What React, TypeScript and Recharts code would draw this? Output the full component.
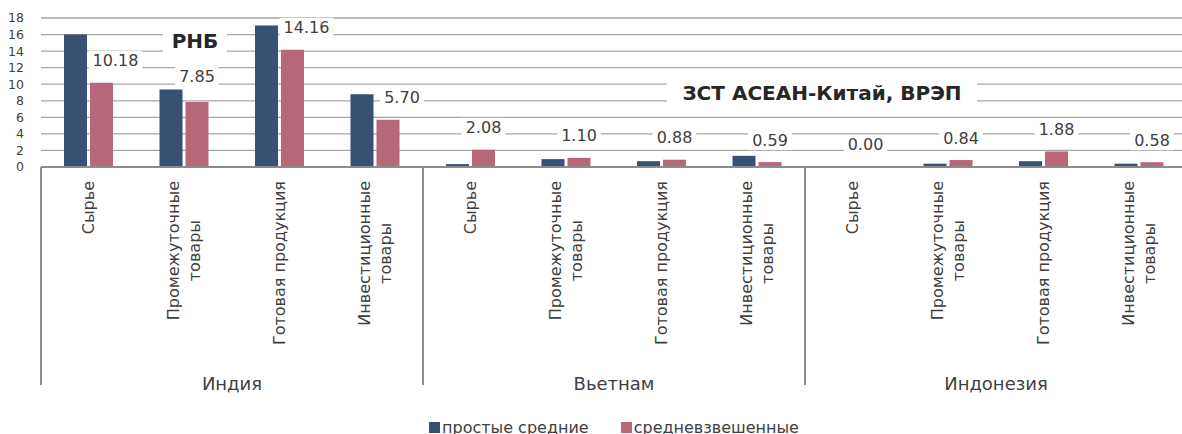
import React from 'react';
import { BarChart, Bar, XAxis, YAxis, CartesianGrid, LabelList } from 'recharts';

// ---- data ----
const groups = ['Индия', 'Вьетнам', 'Индонезия'];
const categoryNames = ['Сырье', 'Промежуточные\nтовары', 'Готовая продукция', 'Инвестиционные\nтовары'];
const simpleAvg = [16.0, 9.35, 17.1, 8.8, 0.35, 0.95, 0.7, 1.35, 0.0, 0.4, 0.7, 0.4];
const weightedAvg = [10.18, 7.85, 14.16, 5.7, 2.08, 1.1, 0.88, 0.59, 0.0, 0.84, 1.88, 0.58];
const yTicks = [0, 2, 4, 6, 8, 10, 12, 14, 16, 18];
const seriesNames = ['простые средние', 'средневзвешенные'];
const annotations = ['РНБ', 'ЗСТ АСЕАН-Китай, ВРЭП'];

// ---- layout / style ----
const FONT = '"DejaVu Sans", sans-serif';
const BLUE = '#375073';
const RED = '#b8667a';
const TEXT = '#404040';
const GRID = '#a6a6a6';
const AXIS = '#8c8c8c';
const CHART_W = 1195;
const CHART_H = 434;
const MARGIN = { top: 18, right: 8, left: 0, bottom: 0 };
const Y_W = 41;
const PLOT_W = CHART_W - MARGIN.right - MARGIN.left - Y_W;
const BW = PLOT_W / (groups.length * categoryNames.length);
const X_AXIS_H = 267;
const PLOT_H = CHART_H - MARGIN.top - MARGIN.bottom - X_AXIS_H;
const Y_MAX = yTicks[yTicks.length - 1];
const CAT_FS = 16;
const LINE_H = 21;
const LABEL_TOP = 14;
const DIVIDER_LEN = 218;
const GROUP_Y = 216;
const DATA_FS = 16;
const LABEL_RISE = 22;
const LABEL_SHIFT = 14;
const LABEL_CLEAR = 13;

const rows = groups.flatMap((g, gi) =>
  categoryNames.map((c, ci) => ({
    key: `${gi}-${ci}`,
    name: c,
    group: g,
    simple: simpleAvg[gi * categoryNames.length + ci],
    weighted: weightedAvg[gi * categoryNames.length + ci],
  }))
);

let ctx: CanvasRenderingContext2D | null = null;
function measure(text: string, font: string): number {
  if (!ctx) ctx = document.createElement('canvas').getContext('2d');
  if (!ctx) return text.length * 9;
  ctx.font = font;
  return ctx.measureText(text).width;
}

const CategoryTick = (props: any) => {
  const { x, y, index } = props;
  const row = rows[index];
  if (!row) return null;
  const lines = row.name.split('\n');
  const font = `${CAT_FS}px ${FONT}`;
  const maxW = Math.max(...lines.map((l: string) => measure(l, font)));
  const cy = y + LABEL_TOP + maxW / 2;
  const n = lines.length;
  const perGroup = categoryNames.length;
  return (
    <g>
      {lines.map((l: string, i: number) => {
        const lx = x + (i - (n - 1) / 2) * LINE_H;
        return (
          <text
            key={i}
            x={lx}
            y={cy}
            transform={`rotate(-90 ${lx} ${cy})`}
            textAnchor="middle"
            dominantBaseline="central"
            fontFamily={FONT}
            fontSize={CAT_FS}
            fill={TEXT}
          >
            {l}
          </text>
        );
      })}
      {index % perGroup === 0 && (
        <line x1={x - BW / 2} x2={x - BW / 2} y1={y} y2={y + DIVIDER_LEN} stroke={AXIS} strokeWidth={2} />
      )}
      {index === rows.length - 1 && (
        <line x1={x + BW / 2} x2={x + BW / 2} y1={y} y2={y + DIVIDER_LEN} stroke={AXIS} strokeWidth={2} />
      )}
      {index % perGroup === 1 && (
        <text
          x={x + BW / 2}
          y={y + GROUP_Y}
          textAnchor="middle"
          dominantBaseline="central"
          fontFamily={FONT}
          fontSize={18}
          fill={TEXT}
        >
          {row.group}
        </text>
      )}
    </g>
  );
};

const WeightedLabel = (props: any) => {
  const vb = props.viewBox || {};
  const x = props.x ?? vb.x;
  const y = props.y ?? vb.y;
  const width = props.width ?? vb.width;
  const { value, index } = props;
  const text = Number(value).toFixed(2);
  const diff = simpleAvg[index] - weightedAvg[index];
  const shift = diff > 2 ? LABEL_SHIFT : 0;
  const cx = x + width / 2 + shift;
  let cy = y - LABEL_RISE;
  if (!shift && diff > 0) {
    const blueTop = y - (diff * PLOT_H) / Y_MAX;
    cy = Math.min(cy, blueTop - LABEL_CLEAR);
  }
  const w = measure(text, `${DATA_FS}px ${FONT}`) + 8;
  return (
    <g>
      <rect x={cx - w / 2} y={cy - 10} width={w} height={20} fill="#ffffff" />
      <text
        x={cx}
        y={cy}
        textAnchor="middle"
        dominantBaseline="central"
        fontFamily={FONT}
        fontSize={DATA_FS}
        fill={TEXT}
      >
        {text}
      </text>
    </g>
  );
};

const annStyle: React.CSSProperties = {
  position: 'absolute',
  background: '#ffffff',
  fontFamily: FONT,
  fontWeight: 'bold',
  fontSize: 20,
  color: '#262626',
  display: 'flex',
  alignItems: 'center',
  justifyContent: 'center',
  whiteSpace: 'nowrap',
};

export default function App() {
  return (
    <div
      style={{
        position: 'absolute',
        left: 0,
        top: 0,
        width: 1182,
        height: 434,
        overflow: 'hidden',
        background: '#ffffff',
      }}
    >
      <BarChart
        width={CHART_W}
        height={CHART_H}
        data={rows}
        margin={MARGIN}
        barGap={3}
        barCategoryGap="25%"
      >
        <CartesianGrid vertical={false} stroke={GRID} strokeWidth={1.3} />
        <YAxis
          width={Y_W}
          domain={[0, Y_MAX]}
          ticks={yTicks}
          interval={0}
          axisLine={false}
          tickLine={false}
          tickSize={0}
          tickMargin={17}
          tick={{ fontFamily: FONT, fontSize: 12.5, fill: TEXT }}
        />
        <XAxis
          dataKey="key"
          interval={0}
          height={X_AXIS_H}
          tickLine={false}
          tickSize={0}
          tickMargin={0}
          axisLine={{ stroke: AXIS, strokeWidth: 2 }}
          tick={<CategoryTick />}
        />
        <Bar dataKey="simple" name={seriesNames[0]} fill={BLUE} barSize={23} isAnimationActive={false} />
        <Bar
          dataKey="weighted"
          name={seriesNames[1]}
          fill={RED}
          barSize={23}
          minPointSize={0.01}
          isAnimationActive={false}
        >
          <LabelList dataKey="weighted" content={<WeightedLabel />} />
        </Bar>
      </BarChart>

      <div style={{ ...annStyle, left: 163, top: 29, width: 64, height: 23 }}>{annotations[0]}</div>
      <div style={{ ...annStyle, left: 667, top: 82, width: 310, height: 22 }}>{annotations[1]}</div>

      <div
        style={{
          position: 'absolute',
          left: MARGIN.left + Y_W,
          width: PLOT_W,
          top: 418,
          display: 'flex',
          justifyContent: 'center',
          alignItems: 'center',
          fontFamily: FONT,
          fontSize: 16,
          color: TEXT,
          whiteSpace: 'nowrap',
        }}
      >
        {seriesNames.map((s, i) => (
          <div key={s} style={{ display: 'flex', alignItems: 'center', marginLeft: i === 0 ? 0 : 32 }}>
            <div style={{ width: 11, height: 11, background: i === 0 ? BLUE : RED, marginRight: 2 }} />
            <span>{s}</span>
          </div>
        ))}
      </div>
    </div>
  );
}
